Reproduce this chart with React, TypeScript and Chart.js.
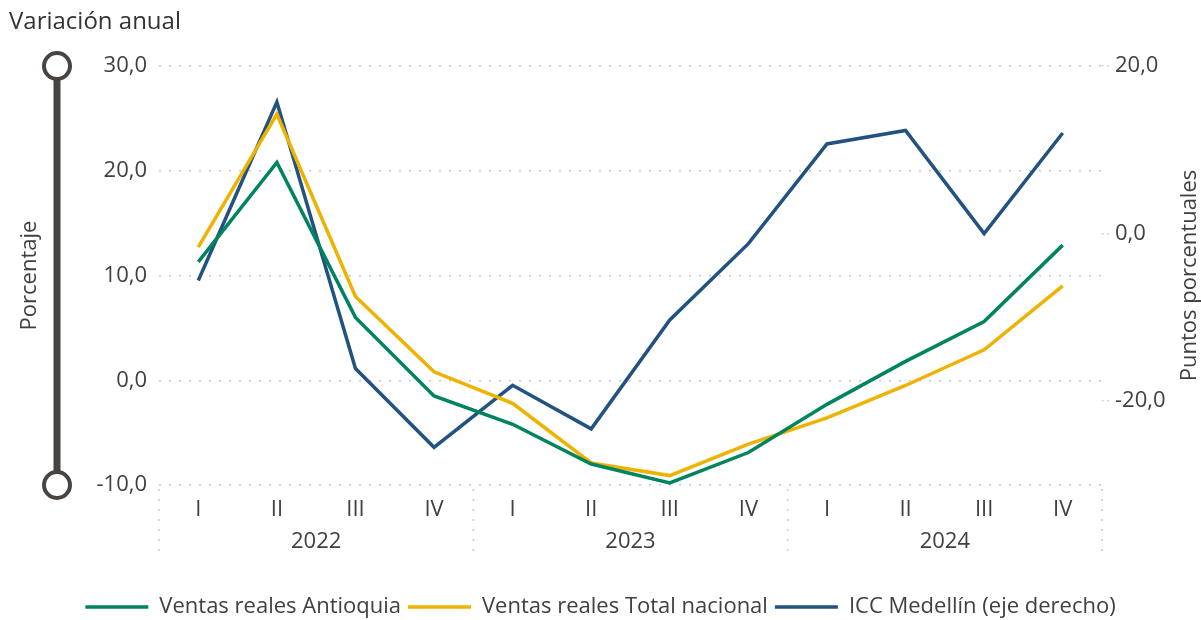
import React, { useEffect, useRef } from 'react';
import { Chart, registerables } from 'chart.js';

Chart.register(...registerables);

const quarters = ['I', 'II', 'III', 'IV', 'I', 'II', 'III', 'IV', 'I', 'II', 'III', 'IV'];
const years = ['2022', '2023', '2024'];
const antioquia = [11.3, 20.8, 6.0, -1.5, -4.2, -8.0, -9.8, -6.9, -2.3, 1.8, 5.6, 12.9];
const nacional = [12.7, 25.4, 8.0, 0.8, -2.2, -7.9, -9.1, -6.1, -3.6, -0.5, 2.9, 9.0];
const icc = [-5.6, 15.7, -16.1, -25.5, -18.1, -23.3, -10.3, -1.2, 10.7, 12.3, 0.0, 12.0];
const leftTicks = [-10, 0, 10, 20, 30];
const rightTicks = [-20, 0, 20];

const FONT = "'Open Sans', 'Noto Sans', sans-serif";
const TEXT = '#404040';
const GRID = '#C8C8C8';
const GREEN = '#00845F';
const YELLOW = '#EDB300';
const BLUE = '#22527F';
const DECO = '#484441';

const fmt = (v: number) => v.toFixed(1).replace('.', ',');

const decoPlugin = {
  id: 'deco',
  afterDraw(chart: any) {
    const { ctx, chartArea, scales } = chart;
    const xs = scales.x;
    const ys = scales.y;
    ctx.save();
    // year separators
    const half = (xs.getPixelForValue(1) - xs.getPixelForValue(0)) / 2;
    ctx.strokeStyle = GRID;
    ctx.lineWidth = 1.5;
    ctx.setLineDash([2, 8]);
    for (let g = 0; g <= years.length; g++) {
      const px = g < years.length
        ? xs.getPixelForValue(g * 4) - half
        : xs.getPixelForValue(quarters.length - 1) + half;
      ctx.beginPath();
      ctx.moveTo(px, chartArea.bottom + 4);
      ctx.lineTo(px, chartArea.bottom + 70);
      ctx.stroke();
    }
    ctx.setLineDash([]);
    // year labels
    ctx.fillStyle = TEXT;
    ctx.font = `22px ${FONT}`;
    ctx.textAlign = 'center';
    ctx.textBaseline = 'middle';
    years.forEach((yr, g) => {
      const cx = (xs.getPixelForValue(g * 4) + xs.getPixelForValue(g * 4 + 3)) / 2;
      ctx.fillText(yr, cx, chartArea.bottom + 57);
    });
    // left decoration bar
    const yTop = ys.getPixelForValue(30);
    const yBot = ys.getPixelForValue(-10);
    const bx = 57;
    ctx.strokeStyle = DECO;
    ctx.lineWidth = 7;
    ctx.beginPath();
    ctx.moveTo(bx, yTop);
    ctx.lineTo(bx, yBot);
    ctx.stroke();
    ctx.lineWidth = 4;
    [yTop, yBot].forEach((cy) => {
      ctx.beginPath();
      ctx.arc(bx, cy, 13, 0, Math.PI * 2);
      ctx.fillStyle = '#FFFFFF';
      ctx.fill();
      ctx.stroke();
    });
    // titles
    ctx.fillStyle = '#333333';
    ctx.font = `24px ${FONT}`;
    ctx.textAlign = 'left';
    ctx.textBaseline = 'middle';
    ctx.fillText('Variación anual', 9, 22);
    const midY = (chartArea.top + chartArea.bottom) / 2;
    ctx.font = `22px ${FONT}`;
    ctx.fillStyle = TEXT;
    ctx.save();
    ctx.translate(30, midY);
    ctx.rotate(-Math.PI / 2);
    ctx.textAlign = 'center';
    ctx.fillText('Porcentaje', 0, 0);
    ctx.restore();
    ctx.save();
    ctx.translate(1190, midY);
    ctx.rotate(-Math.PI / 2);
    ctx.textAlign = 'center';
    ctx.fillText('Puntos porcentuales', 0, 0);
    ctx.restore();
    ctx.restore();
  },
};

export default function App() {
  const ref = useRef<HTMLCanvasElement>(null);
  useEffect(() => {
    if (!ref.current) return;
    const chart = new Chart(ref.current, {
      type: 'line',
      data: {
        labels: quarters,
        datasets: [
          { label: 'Ventas reales Antioquia', data: antioquia, borderColor: GREEN, backgroundColor: GREEN, borderWidth: 3.5, pointRadius: 0, yAxisID: 'y', tension: 0 },
          { label: 'Ventas reales Total nacional', data: nacional, borderColor: YELLOW, backgroundColor: YELLOW, borderWidth: 3.5, pointRadius: 0, yAxisID: 'y', tension: 0 },
          { label: 'ICC Medellín (eje derecho)', data: icc, borderColor: BLUE, backgroundColor: BLUE, borderWidth: 3.5, pointRadius: 0, yAxisID: 'y1', tension: 0 },
        ],
      },
      options: {
        animation: false,
        responsive: true,
        maintainAspectRatio: false,
        layout: { padding: { top: 66, left: 0, right: 0, bottom: -8 } },
        plugins: {
          tooltip: { enabled: false },
          legend: {
            position: 'bottom',
            labels: {
              usePointStyle: true,
              pointStyle: 'line',
              pointStyleWidth: 63,
              boxHeight: 22,
              padding: 7,
              color: TEXT,
              font: { family: FONT, size: 22 },
            },
          },
        },
        scales: {
          x: {
            offset: true,
            grid: { display: false, drawTicks: false },
            border: { display: false },
            ticks: { color: TEXT, font: { family: FONT, size: 22 }, padding: 12, maxRotation: 0, autoSkip: false },
            afterFit: (s: any) => { s.height = 104; },
          },
          y: {
            position: 'left',
            min: -10,
            max: 30,
            afterBuildTicks: (s: any) => { s.ticks = leftTicks.map((v) => ({ value: v })); },
            grid: { color: GRID, lineWidth: 1.5, drawTicks: false },
            border: { display: false, dash: [2, 8] },
            ticks: { color: TEXT, font: { family: FONT, size: 22 }, padding: 12, callback: (v: any) => fmt(Number(v)) },
            afterFit: (s: any) => { s.width = 159; },
          },
          y1: {
            position: 'right',
            min: -30,
            max: 20,
            afterBuildTicks: (s: any) => { s.ticks = rightTicks.map((v) => ({ value: v })); },
            grid: { color: GRID, lineWidth: 1.5, drawOnChartArea: false, drawTicks: true, tickLength: 8, tickBorderDash: [1.5, 4] },
            border: { display: false },
            ticks: { color: TEXT, font: { family: FONT, size: 22 }, padding: 5, callback: (v: any) => fmt(Number(v)) },
            afterFit: (s: any) => { s.width = 99; },
          },
        },
      },
      plugins: [decoPlugin],
    } as any);
    return () => chart.destroy();
  }, []);
  return (
    <div style={{ position: 'fixed', left: 0, top: 0, width: 1201, height: 620, background: '#fff' }}>
      <canvas ref={ref} />
    </div>
  );
}
